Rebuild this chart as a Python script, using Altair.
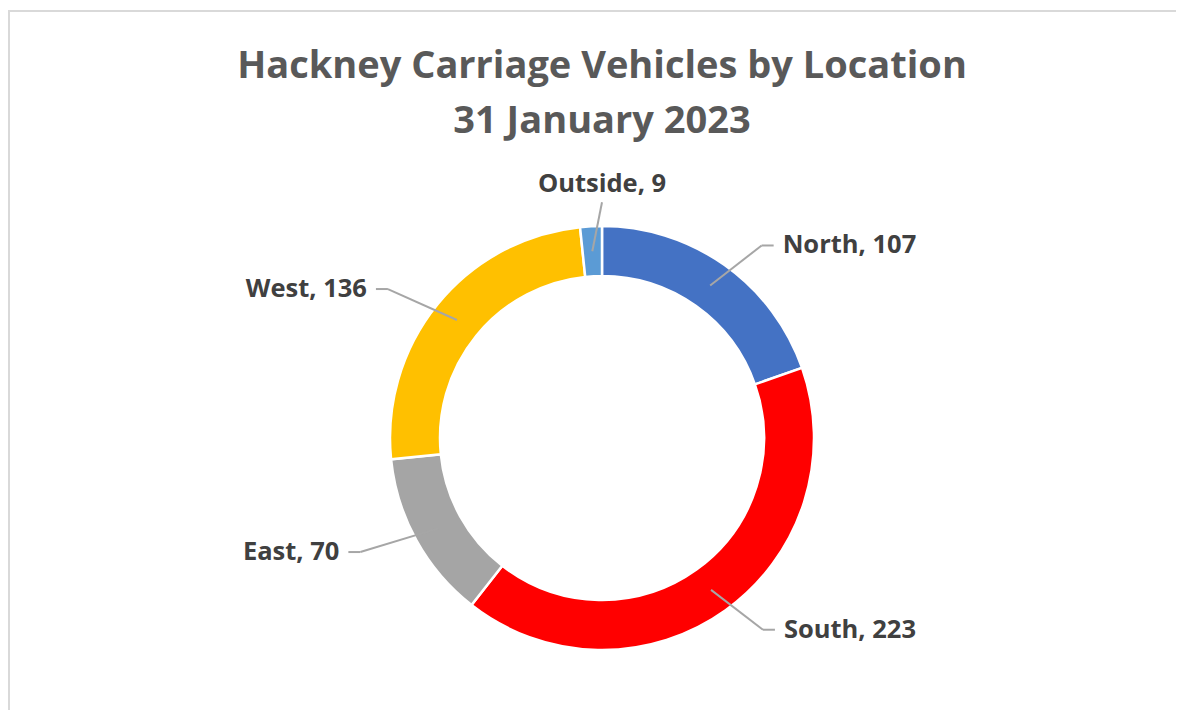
import altair as alt
import pandas as pd

# ---- data ----
locations = ["North", "South", "East", "West", "Outside"]
vehicles = [107, 223, 70, 136, 9]
colours = ["#4472C4", "#FF0000", "#A5A5A5", "#FFC000", "#5B9BD5"]
title_lines = ["Hackney Carriage Vehicles by Location", "31 January 2023"]

df = pd.DataFrame({"location": locations, "vehicles": vehicles, "idx": list(range(len(locations)))})

# ---- layout / style ----
W, H = 1168, 702
CX, CY = 594, 430
R_OUT, R_IN = 212, 162
R_MID = (R_OUT + R_IN) / 2
RX, RY = 276, 236
TAIL = 12
GAP = 9
FONT = "Open Sans"
LINE_COL = "#A6A6A6"
LABEL_COL = "#404040"
TITLE_COL = "#595959"
FRAME_COL = "#D9D9D9"

base = alt.Chart(df)

arc = base.mark_arc(
    x=CX, y=CY, radius=R_OUT, radius2=R_IN, stroke="white", strokeWidth=2.5
).encode(
    theta=alt.Theta("vehicles:Q", stack=True),
    order=alt.Order("idx:Q"),
    color=alt.Color("location:N", scale=alt.Scale(domain=locations, range=colours), legend=None),
)

geo = (
    base.transform_window(cum="sum(vehicles)", sort=[alt.SortField("idx")])
    .transform_joinaggregate(total="sum(vehicles)")
    .transform_calculate(a="2*PI*(datum.cum - datum.vehicles/2)/datum.total")
    .transform_calculate(
        side="sin(datum.a) > 0.2 ? 1 : (sin(datum.a) < -0.2 ? -1 : 0)",
    )
    .transform_calculate(
        sx=f"{CX} + {R_MID}*sin(datum.a)",
        sy=f"{CY} - {R_MID}*cos(datum.a)",
        ex=f"datum.side == 0 ? {CX} : {CX} + {RX}*sin(datum.a)",
        ey=f"{CY} - {RY}*cos(datum.a)",
    )
    .transform_calculate(
        tx=f"datum.ex + datum.side*{TAIL}",
        lx=f"datum.ex + datum.side*{TAIL + GAP}",
        ty="datum.ey - 5",
        label="datum.location + ', ' + datum.vehicles",
    )
)

seg1 = geo.mark_rule(color=LINE_COL, strokeWidth=2).encode(
    x=alt.X("sx:Q", scale=None), y=alt.Y("sy:Q", scale=None),
    x2="ex:Q", y2="ey:Q",
)
seg2 = geo.transform_filter("datum.side != 0").mark_rule(color=LINE_COL, strokeWidth=2).encode(
    x=alt.X("ex:Q", scale=None), y=alt.Y("ey:Q", scale=None),
    x2="tx:Q", y2="ey:Q",
)

txt_kw = dict(font=FONT, fontWeight="bold", fontSize=25.5, color=LABEL_COL)
lab_right = geo.transform_filter("datum.side == 1").mark_text(align="left", baseline="middle", **txt_kw).encode(
    x=alt.X("lx:Q", scale=None), y=alt.Y("ey:Q", scale=None), text="label:N")
lab_left = geo.transform_filter("datum.side == -1").mark_text(align="right", baseline="middle", **txt_kw).encode(
    x=alt.X("lx:Q", scale=None), y=alt.Y("ey:Q", scale=None), text="label:N")
lab_top = geo.transform_filter("datum.side == 0").mark_text(align="center", baseline="bottom", **txt_kw).encode(
    x=alt.X("ex:Q", scale=None), y=alt.Y("ty:Q", scale=None), text="label:N")

title_df = pd.DataFrame({"t": title_lines, "line": [0, 1]})
title = alt.Chart(title_df).transform_calculate(
    ypos="70 + datum.line*55"
).mark_text(align="center", baseline="alphabetic", font=FONT, fontWeight="bold",
            fontSize=38, color=TITLE_COL).encode(
    x=alt.value(CX), y=alt.Y("ypos:Q", scale=None), text="t:N")

one = alt.Chart(pd.DataFrame({"k": [0]}))
cover = one.mark_rule(color="white", strokeWidth=4).encode(
    x=alt.value(W - 1), y=alt.value(5), y2=alt.value(H))
frame_left = one.mark_rule(color=FRAME_COL, strokeWidth=2).encode(
    x=alt.value(1), y=alt.value(2), y2=alt.value(H))
frame_top = one.mark_rule(color=FRAME_COL, strokeWidth=2).encode(
    x=alt.value(0), x2=alt.value(W), y=alt.value(3))

chart = alt.layer(
    cover, frame_left, frame_top, arc, seg1, seg2, lab_right, lab_left, lab_top, title
).properties(
    width=W, height=H, autosize=alt.AutoSizeParams(type="none"), padding=0, background="white",
).configure_view(strokeWidth=0, stroke="transparent")

chart.save("out.html", embed_options={"renderer": "svg", "actions": False})
